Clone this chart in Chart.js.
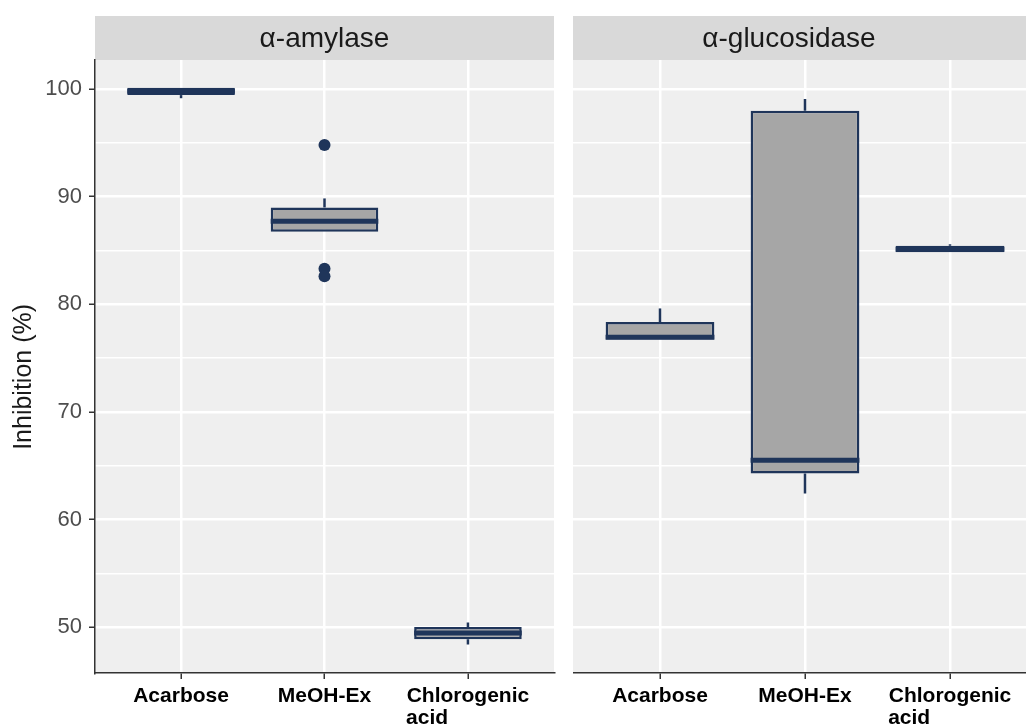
<!DOCTYPE html>
<html>
<head>
<meta charset="utf-8">
<script src="https://cdn.jsdelivr.net/npm/chart.js@4.4.1/dist/chart.umd.min.js"></script>
<style>
  html, body { margin: 0; padding: 0; background: #ffffff; overflow: hidden; }
  #wrap { position: relative; width: 1026px; height: 725px; overflow: hidden; }
  canvas { position: absolute; top: 0; }
  #amylase { left: 0; }
  #glucosidase { left: 573px; }
</style>
</head>
<body>
<div id="wrap">
  <canvas id="amylase" width="560" height="725"></canvas>
  <canvas id="glucosidase" width="464" height="725"></canvas>
</div>
<script>
// ============================
// DATA
// ============================
const categories = ['Acarbose', 'MeOH-Ex', ['Chlorogenic', 'acid']];
const categoryPos = [1, 2, 3];
const panelTitles = ['\u03B1-amylase', '\u03B1-glucosidase'];
const yTicks = [50, 60, 70, 80, 90, 100];

// alpha-amylase
const amyLow = [99.15, 86.74, 48.4];
const amyQ1 = [99.44, 86.74, 48.88];
const amyMedian = [99.79, 87.73, 49.47];
const amyQ3 = [100.12, 89.0, 50.03];
const amyHigh = [100.12, 89.84, 50.44];
const amyOutliers = [[], [94.8, 83.3, 82.6], []];

// alpha-glucosidase
const gluLow = [76.74, 62.42, 84.83];
const gluQ1 = [76.74, 64.28, 84.83];
const gluMedian = [76.95, 65.52, 85.12];
const gluQ3 = [78.35, 97.98, 85.44];
const gluHigh = [79.62, 99.07, 85.58];
const gluOutliers = [[], [], []];

// ============================
// STYLE
// ============================
const NAVY = '#1f355a';
const BOX_FILL = '#a6a6a6';
const PANEL_BG = '#efefef';
const STRIP_BG = '#d9d9d9';
const FONT = '"Liberation Sans", Arial, sans-serif';

// panel background, strip, whiskers and medians
const boxParts = {
    id: 'boxParts',
    beforeDraw(chart, args, opts) {
        const { ctx, chartArea: a } = chart;
        ctx.save();
        ctx.fillStyle = PANEL_BG;
        ctx.fillRect(a.left, a.top, a.right - a.left, a.bottom - a.top);
        ctx.fillStyle = STRIP_BG;
        ctx.fillRect(a.left, 16, a.right - a.left, a.top - 16);
        ctx.fillStyle = '#1a1a1a';
        ctx.font = '28px ' + FONT;
        ctx.textAlign = 'center';
        ctx.textBaseline = 'middle';
        ctx.fillText(opts.title, (a.left + a.right) / 2 + (opts.titleShift || 0), 39);
        ctx.restore();
    },
    beforeDatasetsDraw(chart, args, opts) {
        const { ctx } = chart;
        const y = chart.scales.y;
        const bars = chart.getDatasetMeta(0).data;
        ctx.save();
        ctx.strokeStyle = NAVY;
        ctx.lineWidth = 2.5;
        bars.forEach((bar, i) => {
            ctx.beginPath();
            ctx.moveTo(bar.x, y.getPixelForValue(opts.high[i]));
            ctx.lineTo(bar.x, y.getPixelForValue(opts.q3[i]));
            ctx.moveTo(bar.x, y.getPixelForValue(opts.q1[i]));
            ctx.lineTo(bar.x, y.getPixelForValue(opts.low[i]));
            ctx.stroke();
        });
        ctx.restore();
    },
    afterDatasetsDraw(chart, args, opts) {
        const { ctx } = chart;
        const y = chart.scales.y;
        const bars = chart.getDatasetMeta(0).data;
        ctx.save();
        ctx.strokeStyle = NAVY;
        ctx.lineWidth = 5;
        ctx.lineCap = 'butt';
        bars.forEach((bar, i) => {
            const py = y.getPixelForValue(opts.median[i]);
            ctx.beginPath();
            ctx.moveTo(bar.x - bar.width / 2, py);
            ctx.lineTo(bar.x + bar.width / 2, py);
            ctx.stroke();
        });
        ctx.restore();
    }
};

// pad multi-line labels so the lines line up on the left
const measureCtx = document.createElement('canvas').getContext('2d');
function padLines(label, font) {
    if (!Array.isArray(label)) return label;
    measureCtx.font = font;
    const widest = Math.max(...label.map(l => measureCtx.measureText(l).width));
    return label.map(l => {
        let s = l;
        while (measureCtx.measureText(s + ' ').width <= widest + 2) s += ' ';
        return s;
    });
}

function makePanel(canvasId, title, low, q1, median, q3, high, outliers, showY, titleShift) {
    const boxes = categoryPos.map((x, i) => ({ x: x, y: [q1[i], q3[i]] }));
    const points = [];
    outliers.forEach((list, i) => list.forEach(v => points.push({ x: categoryPos[i], y: v })));

    const xFont = 'bold 21px ' + FONT;

    return new Chart(document.getElementById(canvasId), {
        type: 'bar',
        data: {
            datasets: [{
                data: boxes,
                backgroundColor: BOX_FILL,
                borderColor: NAVY,
                borderWidth: 2.5,
                borderSkipped: false,
                barPercentage: 0.75,
                categoryPercentage: 1.0
            }, {
                type: 'scatter',
                data: points,
                pointRadius: 6,
                pointBackgroundColor: NAVY,
                pointBorderWidth: 0
            }]
        },
        options: {
            responsive: false,
            animation: false,
            devicePixelRatio: 1,
            layout: { padding: { top: 60, left: 0, right: 0, bottom: 0 } },
            plugins: {
                legend: { display: false },
                tooltip: { enabled: false },
                boxParts: { title, low, q1, median, q3, high, titleShift }
            },
            scales: {
                x: {
                    type: 'linear',
                    min: 0.4,
                    max: 3.6,
                    offset: false,
                    afterBuildTicks: (scale) => {
                        scale.ticks = categoryPos.map(v => ({ value: v }));
                    },
                    afterFit: (scale) => { scale.height = 52; },
                    ticks: {
                        autoSkip: false,
                        maxRotation: 0,
                        padding: 6,
                        color: '#000000',
                        font: { family: FONT, size: 21, weight: 'bold', lineHeight: 1.05 },
                        callback: (value) => {
                            const i = categoryPos.indexOf(value);
                            return i < 0 ? '' : padLines(categories[i], xFont);
                        }
                    },
                    grid: {
                        offset: false,
                        color: '#ffffff',
                        lineWidth: 2.5,
                        tickColor: '#333333',
                        tickLength: 6,
                        tickWidth: 1.5
                    },
                    border: { display: true, color: '#333333', width: 1.5 }
                },
                y: {
                    min: 45.75,
                    max: 102.7,
                    afterBuildTicks: (scale) => {
                        const t = [];
                        for (let v = 45; v <= 100; v += 5) {
                            if (v >= scale.min && v <= scale.max) t.push({ value: v });
                        }
                        scale.ticks = t;
                    },
                    afterFit: (scale) => { scale.width = showY ? 95 : 0; },
                    ticks: {
                        display: showY,
                        padding: 7,
                        color: '#4d4d4d',
                        font: { family: FONT, size: 22 },
                        callback: (value) => yTicks.includes(value) ? String(value) : ''
                    },
                    grid: {
                        color: '#ffffff',
                        lineWidth: (c) => yTicks.includes(c.tick && c.tick.value) ? 2.5 : 1.5,
                        drawTicks: showY,
                        tickLength: 6,
                        tickWidth: 1.5,
                        tickColor: (c) => yTicks.includes(c.tick && c.tick.value) ? '#333333' : 'rgba(0,0,0,0)'
                    },
                    border: { display: showY, color: '#333333', width: 1.5 },
                    title: {
                        display: showY,
                        // trailing spaces nudge the rotated title a little lower, as in the figure
                        text: 'Inhibition (%)   ',
                        color: '#1a1a1a',
                        font: { family: FONT, size: 25 },
                        padding: { top: 9, bottom: 0 }
                    }
                }
            }
        },
        plugins: [boxParts]
    });
}

makePanel('amylase', panelTitles[0], amyLow, amyQ1, amyMedian, amyQ3, amyHigh, amyOutliers, true, 0);
makePanel('glucosidase', panelTitles[1], gluLow, gluQ1, gluMedian, gluQ3, gluHigh, gluOutliers, false, -16);
</script>
</body>
</html>
